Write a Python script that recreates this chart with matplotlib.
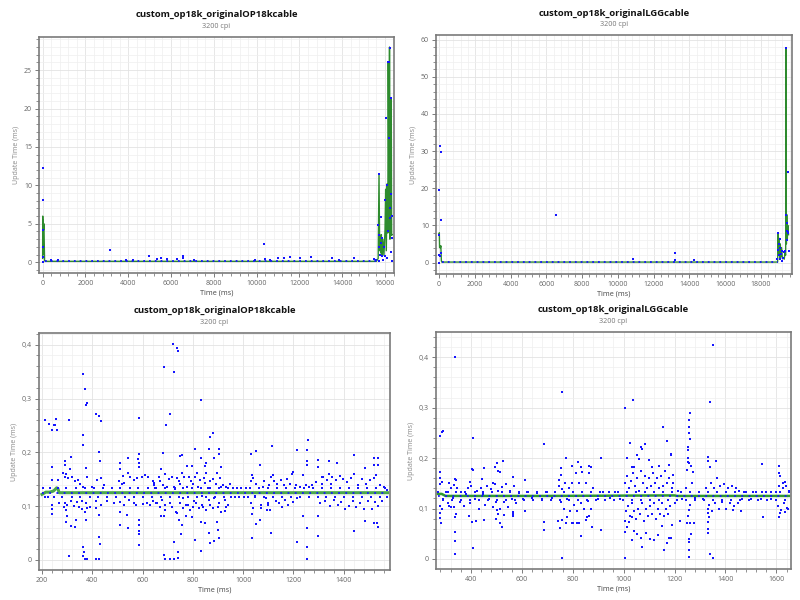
import matplotlib
matplotlib.use("Agg")
import matplotlib.pyplot as plt
from matplotlib.ticker import MultipleLocator, AutoMinorLocator, FuncFormatter

plt.rcParams['font.family'] = ['Open Sans', 'DejaVu Sans']

# %% top-left: custom_op18k_originalOP18kcable, whole run
tl_x = [0, 5, 8, 10, 15, 20, 370, 700, 3130, 3880, 4230, 4970, 5360, 5530, 5790, 6300,
        6540, 6570, 7080, 9910, 10350, 10380, 10610, 11000, 11290, 11550, 12020, 12530,
        13540, 13850, 14540, 15490, 15560, 15680, 15700, 15720, 15730, 15740, 15760,
        15790, 15820, 15840, 15870, 15900, 15940, 15980, 16020, 16040, 16070, 16100,
        16130, 16150, 16170, 16190, 16210, 16230, 16250, 16270, 16290, 16300, 16310,
        16320, 16330]
tl_y = [12.3, 8.1, 4.2, 2.0, 0.7, 0.0, 0.35, 0.35, 1.6, 0.35, 0.35, 0.87, 0.43, 0.52,
        0.43, 0.43, 0.87, 0.6, 0.35, 0.35, 2.4, 0.43, 0.35, 0.6, 0.6, 0.74, 0.52, 0.74,
        0.52, 0.35, 0.52, 0.43, 0.35, 4.9, 0.1, 11.5, 3.5, 2.0, 1.0, 5.9, 2.5, 0.8, 3.2,
        0.3, 2.0, 0.8, 8.1, 18.7, 0.5, 10.1, 4.0, 26.0, 16.2, 26.0, 7.1, 27.9, 5.8, 8.9,
        21.4, 1.3, 6.0, 3.2, 0.1]
tl_avg_x = [0, 5, 15, 25, 40, 60, 90, 120, 15600, 15680, 15720, 15750, 15770, 15800,
            15830, 15860, 15900, 15950, 16000, 16030, 16060, 16100, 16130, 16150, 16190,
            16210, 16230, 16250, 16270, 16290, 16310, 16330]
tl_avg_y = [0.5, 6.0, 1.0, 5.5, 4.2, 5.0, 0.2, 0.12, 0.12, 0.5, 11.5, 1.5, 3.5, 1.2,
            3.6, 1.0, 3.0, 0.9, 4.2, 9.5, 1.5, 10.2, 3.8, 26.0, 4.0, 28.0, 3.0, 16.0, 4.0,
            21.4, 3.5, 3.6]
tl_base = [120, 15600]

# %% top-right: custom_op18k_originalLGGcable, whole run
tr_x = [0, 20, 56, 93, 112, 10, 40, 0, 120, 6550, 10870, 13190, 13220, 14270, 18900,
        18950, 18970, 19000, 19020, 19040, 19060, 19080, 19100, 19150, 19200, 19250,
        19300, 19350, 19400, 19420, 19450, 19470, 19480, 19500, 19520, 19530, 19540]
tr_y = [7.5, 19.6, 31.3, 29.7, 11.4, 2.0, 1.8, 0.0, 2.5, 12.9, 0.9, 2.5, 0.6, 0.6, 0.9,
        7.9, 3.5, 5.0, 2.0, 6.3, 1.0, 4.0, 2.3, 3.0, 0.3, 1.2, 2.9, 3.1, 57.7, 12.9, 10.7,
        8.4, 6.0, 24.4, 8.2, 8.0, 3.0]
tr_avg_x = [0, 15, 30, 80, 100, 130, 150, 18930, 18960, 18990, 19020, 19050, 19080,
            19110, 19150, 19200, 19260, 19300, 19340, 19380, 19400, 19420, 19440, 19470,
            19500, 19520, 19540]
tr_avg_y = [7.5, 8.0, 4.0, 4.0, 4.5, 0.5, 0.12, 0.12, 7.9, 2.0, 6.5, 1.0, 5.0, 1.5, 4.0,
            1.0, 1.2, 0.9, 2.5, 2.0, 57.7, 5.0, 12.9, 6.0, 10.0, 8.2, 7.5]
tr_base = [150, 18930]

# %% bottom-left: OP18k cable, zoomed
bl_x = [363, 371, 376, 380, 213, 229, 241, 246, 253, 254, 258, 309, 416, 426, 433, 584,
        362, 364, 426, 429, 238, 316, 292, 292, 310, 376, 295, 540, 584, 581, 509, 509,
        540, 521, 584, 586, 238, 238, 238, 292, 295, 299, 295, 314, 331, 337, 358, 371,
        380, 376, 416, 426, 426, 430, 509, 509, 540, 538, 584, 584, 586, 586, 586, 308,
        363, 367, 363, 371, 380, 413, 426,
        720, 736, 740, 687, 723, 832, 710, 694, 867, 881, 683, 1113, 749, 756, 808, 865,
        904, 904, 884, 832, 1032, 1049, 1065, 674, 690, 775, 795, 854, 848, 913, 1036,
        687, 674, 690, 736, 743, 756, 753, 773, 795, 808, 831, 832, 850, 865, 867, 884,
        894, 898, 904, 926, 1036, 1036, 1049, 1065, 1095, 1110, 687, 690, 710, 725, 740,
        740, 723,
        1256, 1254, 1214, 1440, 1519, 1536, 1299, 1342, 1374, 1254, 1254, 1299, 1486,
        1519, 1536, 1197, 1236, 1315, 1112, 1214, 1254, 1254, 1254, 1299, 1299, 1236,
        1440, 1486, 1519, 1532, 1536]
bl_y = [0.345, 0.318, 0.288, 0.291, 0.260, 0.252, 0.241, 0.251, 0.250, 0.261, 0.242,
        0.260, 0.272, 0.268, 0.259, 0.263, 0.233, 0.214, 0.200, 0.184, 0.172, 0.192,
        0.184, 0.177, 0.169, 0.171, 0.160, 0.189, 0.197, 0.188, 0.180, 0.169, 0.161,
        0.156, 0.180, 0.172, 0.102, 0.094, 0.086, 0.105, 0.093, 0.081, 0.071, 0.064,
        0.061, 0.074, 0.094, 0.090, 0.097, 0.074, 0.097, 0.084, 0.043, 0.030, 0.090,
        0.065, 0.060, 0.084, 0.074, 0.065, 0.053, 0.048, 0.028, 0.007, 0.024, 0.014,
        0.008, 0.002, 0.002, 0.002, 0.002,
        0.401, 0.393, 0.389, 0.358, 0.349, 0.297, 0.272, 0.250, 0.229, 0.235, 0.198,
        0.212, 0.193, 0.195, 0.206, 0.207, 0.207, 0.197, 0.190, 0.189, 0.197, 0.202,
        0.177, 0.169, 0.160, 0.174, 0.174, 0.180, 0.174, 0.172, 0.158, 0.081, 0.081,
        0.093, 0.088, 0.074, 0.065, 0.048, 0.082, 0.079, 0.037, 0.070, 0.017, 0.069,
        0.050, 0.031, 0.036, 0.070, 0.056, 0.040, 0.091, 0.086, 0.040, 0.066, 0.074,
        0.093, 0.050, 0.009, 0.002, 0.002, 0.002, 0.004, 0.014, 0.034,
        0.223, 0.205, 0.205, 0.195, 0.190, 0.189, 0.186, 0.183, 0.180, 0.183, 0.177,
        0.172, 0.171, 0.176, 0.176, 0.164, 0.157, 0.155, 0.050, 0.033, 0.060, 0.025,
        0.002, 0.045, 0.081, 0.082, 0.054, 0.073, 0.069, 0.069, 0.062]
bl_band_x = [238, 264, 285, 292, 304, 321, 330, 345, 351, 364, 377, 400, 420, 433, 448,
             505, 518, 527, 551, 564, 577, 597, 610, 623, 640, 646, 268, 288, 301, 314,
             328, 341, 347, 360, 374, 391, 413, 433, 459, 485, 512, 525, 544, 564, 575,
             601, 617, 630, 643,
             644, 651, 655, 664, 670, 677, 683, 697, 703, 707, 716, 723, 729, 736, 743,
             749, 756, 760, 765, 775, 779, 786, 791, 799, 804, 808, 815, 821, 828, 835,
             838, 844, 848, 854, 861, 865, 870, 878, 883, 891, 896, 902, 907, 913, 920,
             927, 933, 940, 949, 1032, 1038, 1045, 1051, 1062, 1071, 1078, 1084, 1091,
             1097, 1104, 1110, 657, 668, 690, 716, 733, 749, 762, 773, 789, 801, 812, 825,
             841, 854, 867, 880, 900, 913, 933, 1032, 1038, 1071, 1097, 1106,
             1118, 1122, 1130, 1135, 1142, 1150, 1155, 1162, 1168, 1175, 1180, 1188, 1193,
             1200, 1210, 1215, 1225, 1250, 1262, 1275, 1290, 1305, 1312, 1318, 1325, 1332,
             1340, 1345, 1350, 1355, 1362, 1370, 1376, 1384, 1390, 1398, 1405, 1412, 1420,
             1428, 1435, 1442, 1450, 1458, 1465, 1472, 1480, 1490, 1498, 1505, 1512, 1520,
             1525, 1530, 1538, 1545, 1552, 1560, 1570]
bl_band_y = [0.148, 0.148, 0.162, 0.155, 0.152, 0.154, 0.146, 0.149, 0.141, 0.136, 0.155,
             0.136, 0.149, 0.152, 0.139, 0.146, 0.141, 0.143, 0.155, 0.149, 0.152, 0.155,
             0.157, 0.155, 0.146, 0.139, 0.105, 0.099, 0.102, 0.109, 0.100, 0.107, 0.099,
             0.110, 0.105, 0.099, 0.109, 0.102, 0.109, 0.105, 0.107, 0.102, 0.112, 0.105,
             0.102, 0.104, 0.105, 0.102, 0.110,
             0.143, 0.133, 0.105, 0.155, 0.146, 0.112, 0.140, 0.136, 0.150, 0.105, 0.155,
             0.136, 0.131, 0.152, 0.146, 0.141, 0.161, 0.115, 0.155, 0.136, 0.102, 0.155,
             0.146, 0.141, 0.109, 0.155, 0.161, 0.136, 0.148, 0.118, 0.102, 0.152, 0.143,
             0.161, 0.133, 0.112, 0.146, 0.150, 0.115, 0.141, 0.161, 0.105, 0.152, 0.136,
             0.140, 0.112, 0.136, 0.102, 0.141, 0.146, 0.152, 0.118, 0.141, 0.133, 0.102,
             0.136, 0.146, 0.115, 0.102, 0.140, 0.155, 0.105, 0.099, 0.102, 0.099, 0.090,
             0.105, 0.096, 0.102, 0.093, 0.099, 0.105, 0.096, 0.099, 0.093, 0.102, 0.096,
             0.099, 0.090, 0.099, 0.105, 0.096, 0.096, 0.105, 0.093,
             0.157, 0.146, 0.110, 0.141, 0.105, 0.148, 0.099, 0.139, 0.112, 0.150, 0.102,
             0.141, 0.159, 0.107, 0.139, 0.115, 0.135, 0.140, 0.135, 0.140, 0.145, 0.105,
             0.141, 0.155, 0.110, 0.148, 0.160, 0.100, 0.141, 0.154, 0.112, 0.148, 0.102,
             0.156, 0.107, 0.150, 0.095, 0.145, 0.100, 0.153, 0.110, 0.160, 0.099, 0.140,
             0.105, 0.150, 0.094, 0.142, 0.110, 0.148, 0.095, 0.152, 0.107, 0.158, 0.100,
             0.140, 0.110, 0.135, 0.130]
bl_row_hi_x = [203, 232, 262, 297, 336, 371, 405, 441, 478, 512, 548, 583, 620, 655,
               690, 727, 762, 798, 833, 870, 905, 941, 958, 976, 993, 1011, 1029, 1064,
               1100, 1135, 1171, 1207, 1242, 1278, 1313, 1349, 1385, 1420, 1456, 1491,
               1527, 1563]
bl_row_lo_x = [210, 225, 247, 281, 318, 352, 389, 424, 458, 495, 530, 566, 601, 638,
               673, 708, 745, 780, 815, 851, 888, 923, 950, 967, 985, 1002, 1020, 1047,
               1082, 1118, 1153, 1189, 1224, 1260, 1296, 1331, 1367, 1402, 1438, 1474,
               1509, 1545, 1570]
bl_avg_x = [200, 215, 230, 245, 252, 258, 263, 268, 600, 1000, 1400, 1575]
bl_avg_y = [0.122, 0.126, 0.126, 0.128, 0.131, 0.134, 0.133, 0.125, 0.125, 0.125,
            0.125, 0.125]
bl_base = [200, 1575]

# %% bottom-right: LGG cable, zoomed
br_x = [337, 285, 291, 278, 409, 688, 525, 502, 496, 505, 514, 404, 409, 450, 280, 280,
        278, 285, 337, 341, 335, 566, 612, 315, 397, 442, 488, 278, 285, 280, 278, 282,
        337, 341, 337, 337, 337, 409, 394, 403, 420, 450, 498, 505, 502, 515, 522, 531,
        566, 566, 566, 612, 688, 688, 315, 322, 335,
        759, 1038, 1005, 1156, 1169, 1025, 1067, 1071, 1084, 772, 910, 752, 752, 746,
        798, 822, 834, 864, 873, 1034, 1041, 1054, 1060, 1100, 1110, 1139, 1178, 1185,
        1014, 743, 749, 759, 772, 779, 798, 801, 818, 824, 831, 851, 857, 864, 874, 910,
        1005, 1005, 1014, 1021, 1031, 1034, 1041, 1054, 1067, 1071, 1086, 1102, 1119,
        1136, 1152, 1158, 1169, 1178, 759, 1005,
        1351, 1340, 1259, 1258, 1255, 1258, 1259, 1251, 1251, 1252, 1251, 1255, 1264,
        1249, 1272, 1187, 1331, 1331, 1338, 1364, 1543, 1609, 1609, 1635, 1628, 1615,
        1193, 1193, 1255, 1251, 1249, 1259, 1275, 1264, 1255, 1255, 1258, 1255, 1330,
        1330, 1334, 1331, 1331, 1331, 1340, 1351, 1220, 1187, 1190, 1547, 1609, 1615,
        1635, 1644, 1462, 1429]
br_y = [0.400, 0.252, 0.253, 0.243, 0.240, 0.228, 0.195, 0.190, 0.182, 0.174, 0.173,
        0.178, 0.177, 0.180, 0.172, 0.161, 0.149, 0.152, 0.159, 0.157, 0.146, 0.163,
        0.156, 0.150, 0.152, 0.159, 0.150, 0.106, 0.099, 0.091, 0.081, 0.071, 0.083,
        0.089, 0.053, 0.035, 0.010, 0.022, 0.085, 0.073, 0.076, 0.078, 0.079, 0.089,
        0.098, 0.071, 0.063, 0.088, 0.094, 0.089, 0.085, 0.096, 0.073, 0.057, 0.106,
        0.104, 0.104,
        0.331, 0.315, 0.300, 0.262, 0.234, 0.230, 0.222, 0.219, 0.227, 0.201, 0.201,
        0.180, 0.167, 0.157, 0.185, 0.192, 0.183, 0.185, 0.183, 0.183, 0.182, 0.207,
        0.198, 0.197, 0.183, 0.184, 0.187, 0.207, 0.201, 0.076, 0.062, 0.078, 0.071,
        0.084, 0.072, 0.071, 0.071, 0.072, 0.045, 0.078, 0.083, 0.085, 0.064, 0.058,
        0.076, 0.054, 0.064, 0.073, 0.084, 0.038, 0.055, 0.049, 0.041, 0.024, 0.052,
        0.040, 0.038, 0.048, 0.065, 0.017, 0.032, 0.042, 0.002, 0.002,
        0.424, 0.311, 0.289, 0.275, 0.262, 0.249, 0.237, 0.222, 0.217, 0.200, 0.193,
        0.190, 0.185, 0.177, 0.172, 0.208, 0.202, 0.194, 0.182, 0.194, 0.188, 0.184,
        0.171, 0.152, 0.150, 0.164, 0.166, 0.151, 0.098, 0.085, 0.071, 0.071, 0.071,
        0.050, 0.039, 0.033, 0.018, 0.003, 0.099, 0.091, 0.083, 0.073, 0.060, 0.052,
        0.010, 0.002, 0.075, 0.041, 0.068, 0.084, 0.084, 0.092, 0.094, 0.100, 0.095,
        0.098]
br_band_x = [290, 300, 310, 320, 328, 345, 355, 362, 372, 380, 388, 395, 402, 415, 422,
             430, 438, 448, 455, 462, 470, 478, 486, 494, 500, 508, 515, 522, 530, 538,
             545, 552, 560, 568, 575, 590, 605, 620, 640, 660, 680, 700, 720, 745, 752,
             758, 765, 770, 778, 785, 790, 797, 805, 812, 818, 825, 832, 838, 845, 852,
             858, 865, 872, 880, 900, 920, 945, 965, 985, 1005, 1008, 1012, 1016, 1020,
             1024, 1028, 1032, 1036, 1040, 1044, 1048, 1052, 1056, 1060, 1064, 1068, 1072,
             1076, 1080, 1084, 1088, 1092, 1096, 1100, 1104, 1108, 1112, 1116, 1120, 1124,
             1128, 1132, 1136, 1140, 1144, 1148, 1152, 1156, 1160, 1164, 1168, 1172, 1176,
             1180, 1184, 1190, 1200, 1215, 1230, 1245, 1262, 1270, 1280, 1295, 1310, 1325,
             1335, 1342, 1348, 1355, 1360, 1368, 1374, 1380, 1388, 1395, 1402, 1410, 1418,
             1425, 1432, 1440, 1448, 1455, 1465, 1480, 1500, 1520, 1540, 1560, 1580, 1600,
             1605, 1612, 1618, 1625, 1630, 1638, 1642, 1648]
br_band_y = [0.118, 0.133, 0.110, 0.140, 0.121, 0.140, 0.112, 0.133, 0.105, 0.128, 0.140,
             0.110, 0.145, 0.118, 0.135, 0.100, 0.140, 0.128, 0.108, 0.145, 0.118, 0.138,
             0.104, 0.148, 0.113, 0.135, 0.100, 0.142, 0.112, 0.148, 0.104, 0.135, 0.118,
             0.145, 0.110, 0.130, 0.118, 0.133, 0.120, 0.130, 0.118, 0.132, 0.120, 0.145,
             0.112, 0.138, 0.100, 0.150, 0.118, 0.140, 0.095, 0.150, 0.108, 0.170, 0.095,
             0.150, 0.110, 0.172, 0.100, 0.150, 0.115, 0.170, 0.100, 0.140, 0.118, 0.132,
             0.120, 0.133, 0.118, 0.150, 0.095, 0.165, 0.105, 0.140, 0.085, 0.155, 0.110,
             0.170, 0.095, 0.145, 0.080, 0.160, 0.100, 0.135, 0.090, 0.175, 0.110, 0.150,
             0.075, 0.165, 0.100, 0.140, 0.085, 0.160, 0.105, 0.145, 0.090, 0.170, 0.110,
             0.150, 0.080, 0.160, 0.100, 0.140, 0.090, 0.165, 0.110, 0.145, 0.085, 0.175,
             0.100, 0.150, 0.090, 0.160, 0.105, 0.140, 0.110, 0.135, 0.118, 0.140, 0.108,
             0.150, 0.120, 0.133, 0.118, 0.140, 0.108, 0.150, 0.095, 0.140, 0.110, 0.160,
             0.100, 0.145, 0.112, 0.148, 0.100, 0.140, 0.110, 0.145, 0.105, 0.140, 0.110,
             0.135, 0.118, 0.132, 0.118, 0.133, 0.118, 0.133, 0.118, 0.133, 0.105, 0.145,
             0.098, 0.140, 0.110, 0.145, 0.102, 0.135]
br_row_hi_x = [272, 308, 343, 378, 414, 449, 484, 520, 555, 590, 626, 661, 696, 732,
               767, 802, 838, 873, 908, 944, 979, 1014, 1050, 1085, 1120, 1156, 1191,
               1226, 1262, 1297, 1332, 1368, 1403, 1438, 1474, 1509, 1544, 1580, 1615,
               1650]
br_row_lo_x = [290, 325, 361, 396, 431, 467, 502, 537, 573, 608, 643, 679, 714, 749,
               785, 820, 855, 891, 926, 961, 997, 1032, 1067, 1103, 1138, 1173, 1209,
               1244, 1279, 1315, 1350, 1385, 1421, 1456, 1491, 1527, 1562, 1597, 1633]
br_avg_x = [270, 285, 300, 700, 1190, 1200, 1210, 1650]
br_avg_y = [0.129, 0.129, 0.125, 0.125, 0.126, 0.126, 0.125, 0.125]
br_base = [270, 1650]

title_l = "custom_op18k_originalOP18kcable"
title_r = "custom_op18k_originalLGGcable"
subtitle = "3200 cpi"

# %%
BLUE = '#1515ff'
fig = plt.figure(figsize=(8, 6), dpi=100)

def comma(v, pos):
    if abs(v) < 1e-9:
        return "0"
    return f"{v:.1f}".replace(".", ",")

def style(ax, xmaj, ymaj, xlim, ylim, fmt=None):
    ax.set_xlim(*xlim)
    ax.set_ylim(*ylim)
    ax.xaxis.set_major_locator(MultipleLocator(xmaj))
    ax.yaxis.set_major_locator(MultipleLocator(ymaj))
    ax.xaxis.set_minor_locator(AutoMinorLocator(5))
    ax.yaxis.set_minor_locator(AutoMinorLocator(5))
    ax.grid(True, which='major', color='#e3e3e3', lw=0.6)
    ax.grid(True, which='minor', color='#efefef', lw=0.5)
    ax.set_axisbelow(True)
    for s in ax.spines.values():
        s.set_color('#7a7a7a')
        s.set_linewidth(1.2)
    ax.tick_params(which='major', length=3, width=0.6, color='#666666',
                   labelsize=5, labelcolor='#666666', pad=2)
    ax.tick_params(which='minor', length=2, width=0.5, color='#666666')
    if fmt:
        ax.yaxis.set_major_formatter(FuncFormatter(fmt))
    ax.set_xlabel("Time (ms)", fontsize=5.2, color='#444444', labelpad=2)
    ax.set_ylabel("Update Time (ms)", fontsize=5, color='#888888', labelpad=3)

def heading(ax, title):
    pos = ax.get_position()
    cx = (pos.x0 + pos.x1) / 2
    fig.text(cx, pos.y1 + 0.037, title, ha='center', va='center',
             fontsize=6.8, weight='bold', color='#111111')
    fig.text(cx, pos.y1 + 0.018, subtitle, ha='center', va='center',
             fontsize=5.2, color='#777777')

def dots(ax, xs, ys):
    ax.plot(xs, ys, 's', color=BLUE, ms=1.5, mew=0, zorder=4)

ax1 = fig.add_axes([0.04875, 0.545, 0.44375, 0.3933])
ax1.plot(tl_avg_x, tl_avg_y, color='#2e8b2e', lw=1.0, zorder=2)
ax1.plot(tl_base, [0.12, 0.12], color=BLUE, lw=1.3, ls=(0, (1, 2.2)), zorder=3)
dots(ax1, tl_x, tl_y)
style(ax1, 2000, 5, (-170, 16420), (-1.4, 29.3))
heading(ax1, title_l)

ax2 = fig.add_axes([0.545, 0.5433, 0.445, 0.398])
ax2.plot(tr_avg_x, tr_avg_y, color='#2e8b2e', lw=1.0, zorder=2)
ax2.plot(tr_base, [0.12, 0.12], color=BLUE, lw=1.3, ls=(0, (1, 2.2)), zorder=3)
dots(ax2, tr_x, tr_y)
style(ax2, 2000, 10, (-170, 19734), (-3.1, 61.2))
heading(ax2, title_r)

ax3 = fig.add_axes([0.04875, 0.05, 0.4388, 0.395])
ax3.plot(bl_avg_x, bl_avg_y, color='#4aa84a', lw=2.2, zorder=2)
ax3.plot(bl_base, [0.125, 0.125], color=BLUE, lw=1.3, ls=(0, (1, 3)), zorder=3)
dots(ax3, bl_row_hi_x, [0.133] * len(bl_row_hi_x))
dots(ax3, bl_row_lo_x, [0.117] * len(bl_row_lo_x))
dots(ax3, bl_band_x, bl_band_y)
dots(ax3, bl_x, bl_y)
style(ax3, 200, 0.1, (188, 1584), (-0.0186, 0.4217), comma)
heading(ax3, title_l)

ax4 = fig.add_axes([0.545, 0.0517, 0.44375, 0.395])
ax4.plot(br_avg_x, br_avg_y, color='#2e9a2e', lw=1.8, zorder=2)
ax4.plot(br_base, [0.125, 0.125], color=BLUE, lw=1.3, ls=(0, (1, 3)), zorder=3)
dots(ax4, br_row_hi_x, [0.133] * len(br_row_hi_x))
dots(ax4, br_row_lo_x, [0.117] * len(br_row_lo_x))
dots(ax4, br_band_x, br_band_y)
dots(ax4, br_x, br_y)
style(ax4, 200, 0.1, (262.5, 1657.6), (-0.0198, 0.450), comma)
heading(ax4, title_r)

fig.savefig("out.png", dpi=100)
